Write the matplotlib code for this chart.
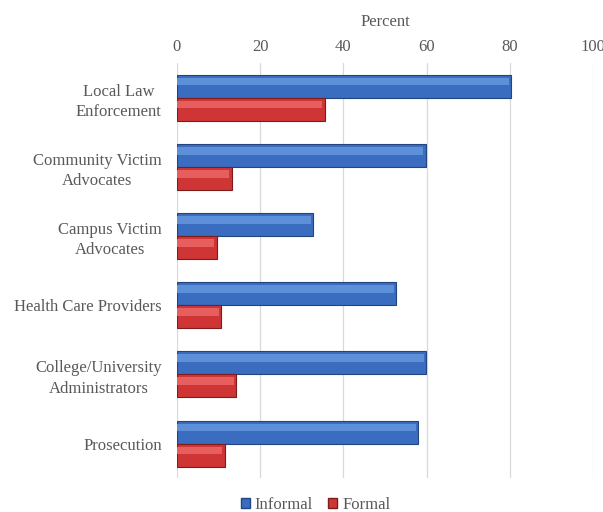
import numpy as np
import matplotlib.pyplot as plt
from matplotlib.patches import Patch

categories = ["Local Law\nEnforcement", "Community Victim\nAdvocates", "Campus Victim\nAdvocates",
              "Health Care Providers", "College/University\nAdministrators", "Prosecution"]
informal = [80.3, 59.8, 32.7, 52.7, 59.9, 58.0]
formal = [35.5, 13.2, 9.6, 10.6, 14.2, 11.5]

plt.rcParams['font.family'] = ['Liberation Serif', 'DejaVu Serif']
gray = '#595959'

fig = plt.figure(figsize=(6.03, 5.12), dpi=100)
ax = fig.add_axes([0.2935, 0.066, 0.69, 0.811])

y = np.arange(len(categories))
h = 0.333

# main bars, then a lighter band on the top part for the glossy look
ax.barh(y - h / 2, informal, height=h, color='#3A6CBF', edgecolor='#23457F', linewidth=0.8, zorder=3)
ax.barh(y + h / 2, formal, height=h, color='#CF3535', edgecolor='#7E1C1C', linewidth=0.8, zorder=3)
ax.barh(y - h * 0.70, np.array(informal) - 0.6, height=h * 0.34, color='#5E90DA', linewidth=0, zorder=4)
ax.barh(y + h * 0.30, np.array(formal) - 0.6, height=h * 0.34, color='#E65E5E', linewidth=0, zorder=4)

ax.set_xlim(0, 100)
ax.set_ylim(len(categories) - 0.5, -0.5)
ax.set_yticks(y)
ax.set_yticklabels(categories, fontsize=12, color=gray, linespacing=1.35)
for t in ax.get_yticklabels():
    t.set_multialignment('center')
ax.tick_params(axis='y', length=0, pad=11)
ax.xaxis.tick_top()
ax.xaxis.set_label_position('top')
ax.set_xticks([0, 20, 40, 60, 80, 100])
ax.tick_params(axis='x', length=0, labelsize=12, labelcolor=gray, pad=6)
ax.set_xlabel('Percent', fontsize=12, color=gray, labelpad=9)
ax.grid(axis='x', color='#D9D9D9', linewidth=0.9, zorder=0)
for s in ax.spines.values():
    s.set_visible(False)

handles = [Patch(facecolor='#3A6CBF', edgecolor='#23457F', label='Informal'),
           Patch(facecolor='#CF3535', edgecolor='#7E1C1C', label='Formal')]
fig.legend(handles=handles, loc='center', bbox_to_anchor=(0.523, 0.013), ncol=2, frameon=False,
           fontsize=12, labelcolor=gray, handlelength=0.55, handleheight=0.55,
           handletextpad=0.3, columnspacing=0.9)

fig.savefig('out.png', dpi=100)
